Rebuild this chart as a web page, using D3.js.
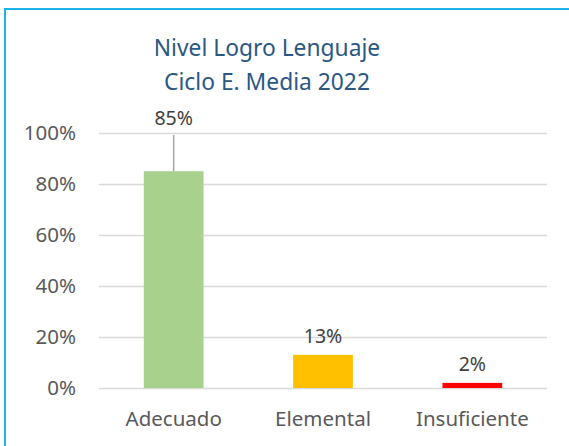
<!DOCTYPE html>
<html>
<head>
<meta charset="utf-8">
<script src="https://d3js.org/d3.v7.min.js"></script>
<style>
  body { margin:0; background:#fff; }
  text { font-family: "Noto Sans", sans-serif; }
</style>
</head>
<body>
<svg width="569" height="446"></svg>
<script>
// chart data
var categories = ["Adecuado","Elemental","Insuficiente"];
var values = [0.85,0.13,0.02];
var barColors = ["#A9D18E","#FFC000","#FF0000"];
var tickValues = [0,0.2,0.4,0.6,0.8,1];
var titleLines = ["Nivel Logro Lenguaje","Ciclo E. Media 2022"];

var screen = {width:569,height:446}
var margins = {left:99,right:22,top:133,bottom:58}

var graph =
    {
        width:screen.width-margins.left-margins.right,
        height:screen.height-margins.top-margins.bottom
    }

var svg = d3.select("svg")

// chart border (continues past the right/bottom edges)
svg.append("rect")
    .attr("x",5)
    .attr("y",9)
    .attr("width",600)
    .attr("height",500)
    .attr("fill","none")
    .attr("stroke","#1DB4EC")
    .attr("stroke-width",2)

var xScale = d3.scaleBand()
    .domain(categories)
    .range([0,graph.width])
    .paddingInner(0.6)
    .paddingOuter(0.3)

var yScale = d3.scaleLinear()
    .domain([0,1])
    .range([graph.height,0])

var target = svg.append("g")
    .attr("transform","translate("+margins.left+","+margins.top+")")

// gridlines + y labels
var yAxis = d3.axisLeft(yScale)
    .tickValues(tickValues)
    .tickSize(-graph.width)
    .tickPadding(23)
    .tickFormat(d3.format(".0%"))

var yg = target.append("g").call(yAxis)
yg.select(".domain").remove()
yg.selectAll(".tick line")
    .attr("stroke","#D9D9D9")
    .attr("stroke-width",1.5)
yg.selectAll(".tick text")
    .attr("fill","#595959")
    .style("font-size","20.5px")

// x labels
var xAxis = d3.axisBottom(xScale).tickSize(0).tickPadding(23)
var xg = target.append("g")
    .attr("transform","translate(0,"+graph.height+")")
    .call(xAxis)
xg.select(".domain").remove()
xg.selectAll(".tick text")
    .attr("fill","#595959")
    .style("font-size","20.5px")

// bars
target.selectAll("rect.bar")
    .data(values)
    .enter()
    .append("rect")
    .classed("bar",true)
    .attr("x",function(d,i){ return xScale(categories[i]); })
    .attr("y",function(d){ return yScale(d); })
    .attr("width",xScale.bandwidth())
    .attr("height",function(d){ return graph.height-yScale(d); })
    .attr("fill",function(d,i){ return barColors[i]; })

// data labels; first one is pushed up with a leader line
var labelOffset = [1.0,0,0];
target.selectAll("line.leader")
    .data(values.filter(function(d,i){ return labelOffset[i]>0; }))
    .enter()
    .append("line")
    .attr("x1",xScale(categories[0])+xScale.bandwidth()/2)
    .attr("x2",xScale(categories[0])+xScale.bandwidth()/2)
    .attr("y1",yScale(labelOffset[0])+2)
    .attr("y2",function(d){ return yScale(d); })
    .attr("stroke","#A6A6A6")
    .attr("stroke-width",1.5)

target.selectAll("text.value")
    .data(values)
    .enter()
    .append("text")
    .classed("value",true)
    .attr("text-anchor","middle")
    .attr("x",function(d,i){ return xScale(categories[i])+xScale.bandwidth()/2; })
    .attr("y",function(d,i){ return labelOffset[i]>0 ? yScale(labelOffset[i])-8 : yScale(d)-12; })
    .attr("fill","#404040")
    .style("font-size","19.5px")
    .text(function(d){ return d3.format(".0%")(d); })

// title
svg.append("g")
    .selectAll("text")
    .data(titleLines)
    .enter()
    .append("text")
    .attr("text-anchor","middle")
    .attr("x",267)
    .attr("y",function(d,i){ return 56+i*34; })
    .attr("fill","#2B5783")
    .style("font-size","22.8px")
    .text(function(d){ return d; })
</script>
</body>
</html>
